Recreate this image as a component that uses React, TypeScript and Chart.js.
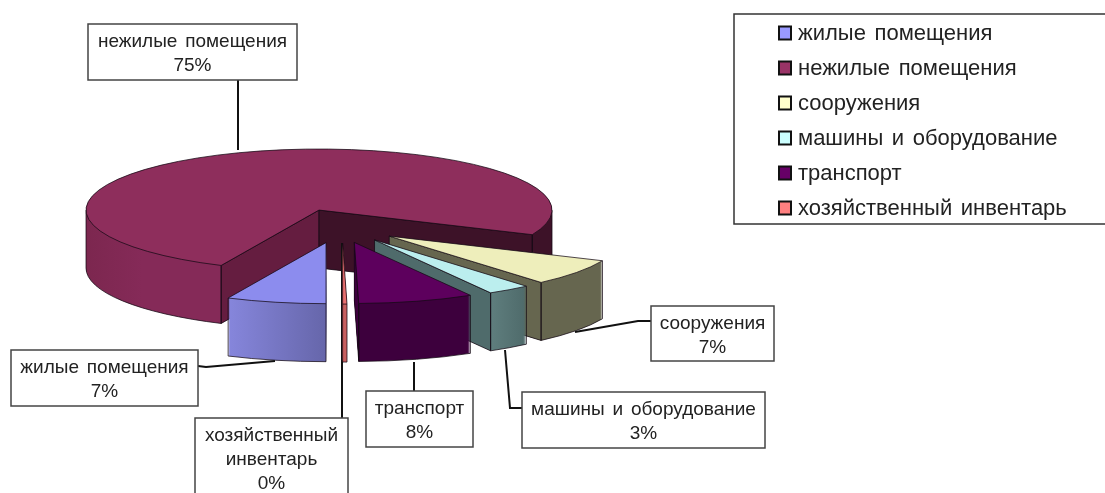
import React, { useEffect, useRef } from "react";
import { Chart, registerables } from "chart.js";

Chart.register(...registerables);

// ---- data ----
const categories = [
  "жилые помещения",
  "нежилые помещения",
  "сооружения",
  "машины и оборудование",
  "транспорт",
  "хозяйственный инвентарь",
];
const shares = [6.9, 74.7, 7.1, 3, 8, 0.3];

// ---- styles ----
const legendColors = ["#9999ff", "#993366", "#ffffcc", "#ccffff", "#660066", "#ff8080"];
const topColors = ["#8c8cee", "#8e2e5c", "#eeeebb", "#bbeeee", "#5d005d", "#e87070"];
const faceColors = ["#5f5fa0", "#651d40", "#66664f", "#4f6b6b", "#3d003d", "#b85858"];
const bigRightFace = "#3d1228";
const wallStops: [number, string][][] = [
  [[0, "#8686dc"], [1, "#6666aa"]],
  [[0, "#7c274f"], [0.12, "#852a58"], [0.4, "#852a58"], [0.5, "#3d1228"], [1, "#3d1228"]],
  [[0, "#66664f"], [1, "#66664f"]],
  [[0, "#5f7e7e"], [1, "#4e6a6a"]],
  [[0, "#3d003d"], [1, "#3d003d"]],
  [[0, "#c86060"], [1, "#c86060"]],
];
const drawOrder = [1, 2, 3, 4, 5, 0];

// ---- 3D pie geometry ----
const PIE_X = 342;
const PIE_Y = 226;
const RADIUS = 233;
const SQUASH = 0.262;
const DEPTH = 58;
const EXPLODE = 65;
const INK = "#222222";
const sliceNudgeX = [-2, 0, -5, -5, -5, 0];

// ---- data-label boxes: [left, top, right, bottom], and the leader from the box to the slice ----
const calloutBoxes = [
  [11, 350, 198, 406],
  [88, 24, 297, 80],
  [651, 306, 774, 361],
  [522, 392, 765, 448],
  [366, 391, 473, 447],
  [195, 418, 348, 510],
];
const leaders = [
  [[198, 366], [206, 367], [275, 361]],
  [[238, 80], [238, 150]],
  [[651, 321], [638, 321], [575, 332]],
  [[522, 408], [510, 408], [505, 350]],
  [[414, 391], [414, 362]],
  [[342, 418], [342, 243]],
];
const wrapped = [false, false, false, false, false, true];

function sliceGeom(arc: any, i: number) {
  const mid = (arc.startAngle + arc.endAngle) / 2;
  return {
    ox: PIE_X + sliceNudgeX[i] + Math.cos(mid) * arc.options.offset,
    oy: PIE_Y + Math.sin(mid) * arc.options.offset * SQUASH,
    r: arc.outerRadius,
    s: arc.startAngle,
    e: arc.endAngle,
  };
}

function paintArc(ctx: any, arc: any, g: any, dy: number, fill: any) {
  const saved = arc.options;
  // the explosion is applied here, before the squash, so the arc itself is drawn without it
  arc.options = Object.create(saved, {
    backgroundColor: { value: fill },
    offset: { value: 0 },
  });
  ctx.save();
  ctx.translate(g.ox, g.oy + dy);
  ctx.scale(1, SQUASH);
  ctx.translate(-arc.x, -arc.y);
  arc.draw(ctx);
  ctx.restore();
  arc.options = saved;
}

function drawFace(ctx: any, g: any, angle: number, color: string) {
  const x = g.ox + Math.cos(angle) * g.r;
  const y = g.oy + Math.sin(angle) * g.r * SQUASH;
  ctx.beginPath();
  ctx.moveTo(g.ox, g.oy);
  ctx.lineTo(x, y);
  ctx.lineTo(x, y + DEPTH);
  ctx.lineTo(g.ox, g.oy + DEPTH);
  ctx.closePath();
  ctx.fillStyle = color;
  ctx.fill();
  ctx.stroke();
}

function rimPoint(g: any, a: number, dy: number) {
  return [g.ox + Math.cos(a) * g.r, g.oy + Math.sin(a) * g.r * SQUASH + dy];
}

function drawSlice(ctx: any, arc: any, i: number) {
  const g = sliceGeom(arc, i);
  const sinA = Math.cos(g.s);
  const sinB = Math.cos(g.e);
  let lo = Math.min(sinA, sinB);
  let hi = Math.max(sinA, sinB);
  if (g.e - g.s > Math.PI) {
    lo = -1;
    hi = 1;
  }
  const grad = ctx.createLinearGradient(arc.x + lo * g.r, 0, arc.x + hi * g.r, 0);
  wallStops[i].forEach(([p, c]) => grad.addColorStop(p, c));
  for (let d = DEPTH; d >= 1; d--) paintArc(ctx, arc, g, d, grad);

  ctx.strokeStyle = "rgba(20,10,20,0.75)";
  ctx.lineWidth = 1;
  if (Math.cos(g.s) < -0.001) drawFace(ctx, g, g.s, faceColors[i]);
  if (Math.cos(g.e) > 0.001) drawFace(ctx, g, g.e, i === 1 ? bigRightFace : faceColors[i]);

  // visible bottom rim and silhouette edges of the wall
  [[0, Math.PI], [2 * Math.PI, 3 * Math.PI]].forEach(([a, b]) => {
    const from = Math.max(a, g.s);
    const to = Math.min(b, g.e);
    if (to <= from) return;
    ctx.save();
    ctx.translate(g.ox, g.oy + DEPTH);
    ctx.scale(1, SQUASH);
    ctx.beginPath();
    ctx.arc(0, 0, g.r, from, to);
    ctx.restore();
    ctx.stroke();
    [from, to].forEach((t) => {
      const top = rimPoint(g, t, 0);
      const bot = rimPoint(g, t, DEPTH);
      ctx.beginPath();
      ctx.moveTo(top[0], top[1]);
      ctx.lineTo(bot[0], bot[1]);
      ctx.stroke();
    });
  });

  paintArc(ctx, arc, g, 0, topColors[i]);
  ctx.save();
  ctx.translate(g.ox, g.oy);
  ctx.scale(1, SQUASH);
  ctx.beginPath();
  ctx.moveTo(0, 0);
  ctx.arc(0, 0, g.r, g.s, g.e);
  ctx.closePath();
  ctx.restore();
  ctx.stroke();
}

function drawLeader(ctx: any, i: number) {
  ctx.strokeStyle = "#111111";
  ctx.lineWidth = 2;
  ctx.beginPath();
  leaders[i].forEach(([x, y], k) => (k ? ctx.lineTo(x, y) : ctx.moveTo(x, y)));
  ctx.stroke();
}

function drawCallout(ctx: any, i: number) {
  const [l, t, r, b] = calloutBoxes[i];
  ctx.fillStyle = "#ffffff";
  ctx.strokeStyle = "#444444";
  ctx.lineWidth = 1.5;
  ctx.fillRect(l, t, r - l, b - t);
  ctx.strokeRect(l, t, r - l, b - t);
  const lines = [
    ...(wrapped[i] ? categories[i].split(" ") : [categories[i]]),
    `${Math.round(shares[i])}%`,
  ];
  ctx.fillStyle = INK;
  ctx.font = "19px 'Liberation Sans'";
  ctx.textAlign = "center";
  ctx.textBaseline = "middle";
  lines.forEach((s, k) => ctx.fillText(s, (l + r) / 2, t + 18 + k * 24));
}

const pie3d = {
  id: "pie3d",
  afterLayout(chart: any) {
    const lg = chart.legend;
    const pad = lg.options.labels.padding;
    lg.left = 779 - pad;
    lg.right = 1105;
    lg.top = 34 - 11 - pad;
    lg.bottom = 493;
    lg.width = lg.right - lg.left;
    lg.height = lg.bottom - lg.top;
  },
  beforeDraw(chart: any) {
    chart.ctx.wordSpacing = "2.5px";
  },
  beforeDatasetsDraw(chart: any) {
    const ctx = chart.ctx;
    const arcs = chart.getDatasetMeta(0).data;
    drawOrder.forEach((i) => {
      if (i === 5) drawLeader(ctx, 5);
      drawSlice(ctx, arcs[i], i);
    });
    return false;
  },
  afterDraw(chart: any) {
    const ctx = chart.ctx;
    const lg = chart.legend;
    // legend frame and swatches
    ctx.save();
    ctx.strokeStyle = "#333333";
    ctx.lineWidth = 1.5;
    ctx.strokeRect(734, 14, 380, 210);
    const pad = lg.options.labels.padding;
    const rowH = 22 + pad;
    legendColors.forEach((c, i) => {
      const x = lg.left + pad;
      const y = lg.top + pad + i * rowH + 11 - 7.5;
      ctx.fillStyle = c;
      ctx.strokeStyle = "#111111";
      ctx.lineWidth = 2;
      ctx.fillRect(x, y, 12, 13);
      ctx.strokeRect(x, y, 12, 13);
    });
    categories.forEach((_, i) => {
      if (i !== 5) drawLeader(ctx, i);
    });
    categories.forEach((_, i) => drawCallout(ctx, i));
    ctx.restore();
  },
};

export default function App() {
  const ref = useRef<HTMLCanvasElement>(null);
  useEffect(() => {
    const chart = new Chart(ref.current as any, {
      type: "pie",
      data: {
        labels: categories,
        datasets: [
          {
            data: shares,
            backgroundColor: legendColors,
            borderWidth: 0,
            offset: EXPLODE,
          },
        ],
      },
      options: {
        responsive: false,
        animation: false,
        rotation: 180,
        radius: RADIUS,
        plugins: {
          tooltip: { enabled: false },
          title: { display: false },
          legend: {
            display: true,
            position: "right",
            align: "start",
            labels: {
              boxWidth: 8,
              boxHeight: 8,
              padding: 13,
              color: INK,
              font: { family: "'Liberation Sans'", size: 22 },
            },
          },
        },
      } as any,
      plugins: [pie3d],
    });
    return () => chart.destroy();
  }, []);
  return (
    <div style={{ position: "absolute", left: 0, top: 0, width: 1105, height: 493, overflow: "hidden", background: "#fff" }}>
      <canvas ref={ref} width={1105} height={493} style={{ display: "block", filter: "blur(0.35px)" }} />
    </div>
  );
}
